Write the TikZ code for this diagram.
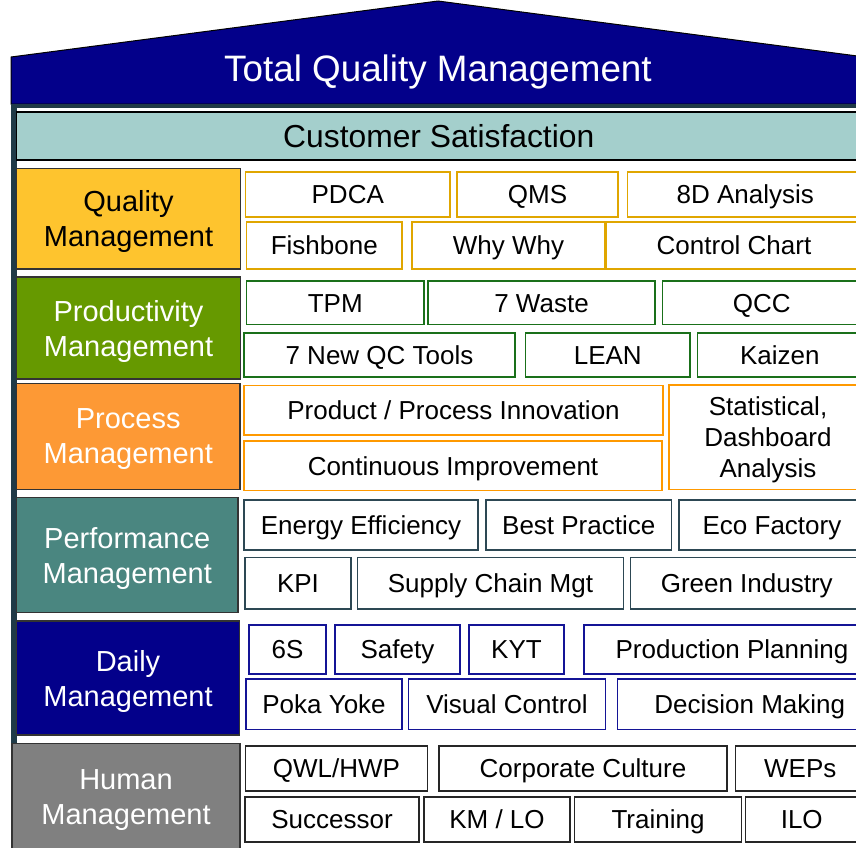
\documentclass[tikz,border=0pt]{standalone}
\usepackage{fontspec}
\setmainfont{Liberation Sans}
\usepackage{tikz}
\usetikzlibrary{positioning}
\usepackage{xcolor}
\definecolor{tqmnavy}{RGB}{3,0,138}
\definecolor{tqmslate}{RGB}{31,58,71}
\definecolor{custteal}{RGB}{164,207,204}
\definecolor{qualfill}{RGB}{254,196,46}
\definecolor{qualline}{RGB}{224,166,0}
\definecolor{prodfill}{RGB}{102,153,0}
\definecolor{prodline}{RGB}{26,112,26}
\definecolor{procfill}{RGB}{253,153,53}
\definecolor{procline}{RGB}{255,153,0}
\definecolor{perffill}{RGB}{74,134,128}
\definecolor{perfline}{RGB}{45,72,84}
\definecolor{dailyline}{RGB}{20,20,150}
\definecolor{humfill}{RGB}{128,128,128}
\tikzstyle{tool} = [rectangle, fill=white, line width=1.8pt, inner sep=0pt, text height=18.7pt, text depth=0pt, font=\fontsize{26}{31}\selectfont]
\tikzstyle{qtool} = [tool, draw=qualline]
\tikzstyle{ptool} = [tool, draw=prodline]
\tikzstyle{rtool} = [tool, draw=procline]
\tikzstyle{ftool} = [tool, draw=perfline]
\tikzstyle{dtool} = [tool, draw=dailyline]
\tikzstyle{htool} = [tool, draw=black!85]
\tikzstyle{pillar} = [rectangle, draw=black!80, line width=1.5pt, inner sep=0pt, align=center, text depth=0pt, text=white, font=\fontsize{29}{35}\selectfont]

\begin{document}
\begin{tikzpicture}[x=1pt, y=-1pt]
\clip (0,0) rectangle (856,847);
\fill[white] (0,0) rectangle (856,847);
% Roof
\draw[fill=tqmnavy, line width=1pt] (11,104) -- (11,57) -- (438,1) -- (865,57) -- (865,104) -- cycle;
\node (title) [text=white, inner sep=0pt, text height=26.4pt, text depth=0pt, font=\fontsize{36.8}{44}\selectfont] at (438,68.5) {Total Quality Management};
\fill[tqmslate] (11,104) rectangle (870,108);
\fill[tqmslate] (11,104) rectangle (16.5,745);

% Customer band
\node (customer) [rectangle, draw=black, fill=custteal, line width=1.2pt, minimum width=844.5pt, minimum height=48pt, inner sep=0pt, text height=22.8pt, text depth=0pt, font=\fontsize{31.8}{38}\selectfont] at (438.75,136) {Customer Satisfaction};

% Pillars
\node (quality) [pillar, fill=qualfill, text=black, minimum width=224pt, minimum height=100.5pt] at (128.5,218.75) {Quality\\Management};
\node (productivity) [pillar, fill=prodfill, minimum width=224pt, minimum height=102pt] at (128.5,328) {Productivity\\Management};
\node (process) [pillar, fill=procfill, minimum width=223.5pt, minimum height=106pt] at (128.25,436.5) {Process\\Management};
\node (performance) [pillar, fill=perffill, minimum width=221.5pt, minimum height=115pt] at (127.25,555) {Performance\\Management};
\node (daily) [pillar, fill=tqmnavy, minimum width=223pt, minimum height=114pt] at (128,678) {Daily\\Management};
\node (human) [pillar, fill=humfill, minimum width=228pt, minimum height=106.5pt] at (126,796.75) {Human\\Management};

% Quality tools
\node (pdca) [qtool, minimum width=204.5pt, minimum height=45pt] at (347.75,194.5) {PDCA};
\node (qms) [qtool, minimum width=161pt, minimum height=45pt] at (537.5,194.5) {QMS};
\node (eightd) [qtool, minimum width=235.5pt, minimum height=45pt] at (745.25,194.5) {8D Analysis};
\node (fishbone) [qtool, minimum width=155.5pt, minimum height=47pt] at (324.25,245.5) {Fishbone};
\node (whywhy) [qtool, minimum width=193pt, minimum height=47pt] at (508.5,245.5) {Why Why};
\node (chart) [qtool, minimum width=256pt, minimum height=47pt] at (734,245.5) {Control Chart};

% Productivity tools
\node (tpm) [ptool, minimum width=177.5pt, minimum height=43.5pt] at (335.25,302.75) {TPM};
\node (waste) [ptool, minimum width=227pt, minimum height=43.5pt] at (541.5,302.75) {7 Waste};
\node (qcc) [ptool, minimum width=198.5pt, minimum height=43.5pt] at (761.75,302.75) {QCC};
\node (newqc) [ptool, minimum width=271pt, minimum height=44pt] at (379.5,355) {7 New QC Tools};
\node (lean) [ptool, minimum width=164.5pt, minimum height=44pt] at (607.75,355) {LEAN};
\node (kaizen) [ptool, minimum width=164.5pt, minimum height=44pt] at (779.75,355) {Kaizen};

% Process tools
\node (innovation) [rtool, minimum width=419pt, minimum height=49.5pt] at (453.5,410.25) {Product / Process Innovation};
\node (improvement) [rtool, minimum width=418pt, minimum height=49.5pt] at (453,465.75) {Continuous Improvement};
\node (statistical) [rtool, text height=, align=center, minimum width=198pt, minimum height=104.5pt] at (768,437.25) {Statistical,\\Dashboard\\Analysis};

% Performance tools
\node (energy) [ftool, minimum width=234pt, minimum height=50pt] at (361,525) {Energy Efficiency};
\node (best) [ftool, minimum width=185.5pt, minimum height=50pt] at (578.75,525) {Best Practice};
\node (eco) [ftool, minimum width=186pt, minimum height=50pt] at (772,525) {Eco Factory};
\node (kpi) [ftool, minimum width=106pt, minimum height=51.5pt] at (298,583.25) {KPI};
\node (supply) [ftool, minimum width=266pt, minimum height=51.5pt] at (490.5,583.25) {Supply Chain Mgt};
\node (green) [ftool, minimum width=232.5pt, minimum height=51.5pt] at (746.75,583.25) {Green Industry};

% Daily tools
\node (sixs) [dtool, minimum width=77pt, minimum height=49pt] at (287.5,649.5) {6S};
\node (safety) [dtool, minimum width=125pt, minimum height=49pt] at (397.5,649.5) {Safety};
\node (kyt) [dtool, minimum width=95pt, minimum height=49pt] at (516.5,649.5) {KYT};
\node (planning) [dtool, minimum width=296pt, minimum height=49pt] at (732,649.5) {Production Planning};
\node (pokayoke) [dtool, minimum width=156pt, minimum height=50.5pt] at (324,704.25) {Poka Yoke};
\node (visual) [dtool, minimum width=197pt, minimum height=50.5pt] at (507,704.25) {Visual Control};
\node (decision) [dtool, minimum width=264.5pt, minimum height=50.5pt] at (749.75,704.25) {Decision Making};

% Human tools
\node (qwl) [htool, minimum width=182pt, minimum height=45pt] at (336.5,768.5) {QWL/HWP};
\node (culture) [htool, minimum width=288pt, minimum height=45pt] at (583,768.5) {Corporate Culture};
\node (weps) [htool, minimum width=129.5pt, minimum height=45pt] at (800.25,768.5) {WEPs};
\node (successor) [htool, minimum width=174pt, minimum height=45pt] at (332,819.5) {Successor};
\node (kmlo) [htool, minimum width=146pt, minimum height=45pt] at (497,819.5) {KM / LO};
\node (training) [htool, minimum width=167pt, minimum height=45pt] at (658,819.5) {Training};
\node (ilo) [htool, minimum width=112.5pt, minimum height=45pt] at (801.75,819.5) {ILO};
\end{tikzpicture}
\end{document}
